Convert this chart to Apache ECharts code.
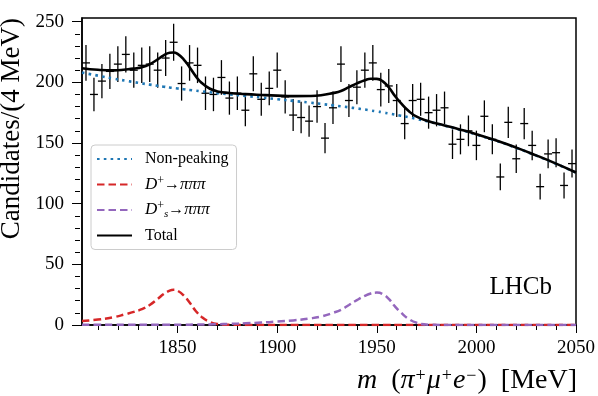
<!DOCTYPE html>
<html>
<head>
<meta charset="utf-8">
<script src="https://cdn.jsdelivr.net/npm/echarts@6/dist/echarts.min.js"></script>
<style>
  html, body { margin: 0; padding: 0; background: #fff; }
  #main { width: 598px; height: 396px; }
</style>
</head>
<body>
<div id="main"></div>
<script>
// bin centres (4 MeV bins) and counts
var binCenters = [1804, 1808, 1812, 1816, 1820, 1824, 1828, 1832, 1836, 1840,
    1844, 1848, 1852, 1856, 1860, 1864, 1868, 1872, 1876, 1880,
    1884, 1888, 1892, 1896, 1900, 1904, 1908, 1912, 1916, 1920,
    1924, 1928, 1932, 1936, 1940, 1944, 1948, 1952, 1956, 1960,
    1964, 1968, 1972, 1976, 1980, 1984, 1988, 1992, 1996, 2000,
    2004, 2008, 2012, 2016, 2020, 2024, 2028, 2032, 2036, 2040,
    2044, 2048];
var counts = [216, 190, 201, 209, 215, 223, 210, 214, 215, 210,
    220, 233, 199, 216, 214, 191, 190, 204, 187, 191,
    177, 207, 186, 195, 210, 188, 173, 171, 168, 180,
    154, 179, 215, 185, 196, 210, 216, 194, 197, 185,
    166, 185, 186, 175, 177, 179, 149, 153, 160, 148,
    172, 153, 122, 167, 137, 166, 148, 114, 141, 142,
    115, 133];

// fit curves, sampled where read
var curveX = [1802, 1810, 1818, 1824, 1828, 1832, 1836, 1840, 1843, 1846,
    1848, 1850, 1853, 1856, 1859, 1862, 1866, 1870, 1876, 1884,
    1892, 1900, 1908, 1916, 1922, 1928, 1932, 1936, 1940, 1944,
    1947, 1950, 1953, 1956, 1959, 1962, 1966, 1970, 1976, 1984,
    1992, 2000, 2010, 2020, 2030, 2040, 2050];
var nonPeaking = [208.0, 205.5, 203.0, 201.3, 200.2, 199.1, 198.1, 197.1, 196.4, 195.7,
    195.3, 194.9, 194.3, 193.7, 193.1, 192.5, 191.8, 191.1, 190.1, 188.8,
    187.5, 186.1, 184.7, 183.3, 182.2, 181.0, 180.2, 179.4, 178.5, 177.6,
    176.8, 176.0, 175.2, 174.3, 173.4, 172.5, 171.2, 169.8, 167.6, 164.3,
    160.8, 157.0, 151.8, 146.0, 139.6, 132.8, 125.5];
var dplus = [3.3, 4.5, 6.5, 9.0, 10.8, 13.0, 16.5, 21.5, 25.5, 28.3,
    29.0, 28.2, 24.4, 18.5, 11.8, 6.7, 2.6, 0.8, 0.2, 0.1,
    0.1, 0.1, 0.1, 0.1, 0.1, 0.1, 0.1, 0.1, 0.1, 0.1,
    0.1, 0.1, 0.1, 0.1, 0.1, 0.1, 0.1, 0.1, 0.1, 0.1,
    0.1, 0.1, 0.1, 0.1, 0.1, 0.1, 0.1];
var dsplus = [0.3, 0.3, 0.3, 0.3, 0.3, 0.3, 0.3, 0.3, 0.3, 0.3,
    0.3, 0.3, 0.3, 0.3, 0.4, 0.4, 0.5, 0.6, 0.9, 1.4,
    2.0, 2.8, 3.8, 5.3, 7.0, 10.0, 12.5, 16.5, 20.5, 24.0,
    26.0, 26.7, 25.5, 21.5, 15.5, 10.5, 5.0, 1.8, 0.3, 0.1,
    0.1, 0.1, 0.1, 0.1, 0.1, 0.1, 0.1];
var total = [211.6, 210.3, 209.8, 210.6, 211.3, 212.4, 214.9, 218.9, 222.2, 224.3,
    224.6, 223.4, 219.0, 212.5, 205.3, 199.6, 194.9, 192.5, 191.2, 190.3,
    189.6, 189.0, 188.6, 188.7, 189.3, 191.1, 192.8, 196.0, 199.1, 201.7,
    202.9, 202.8, 200.8, 195.9, 189.0, 183.1, 176.3, 171.7, 168.0, 164.5,
    161.0, 157.2, 152.0, 146.2, 139.8, 133.0, 125.7];

// ticks
var xMajor = [1850, 1900, 1950, 2000, 2050];
var xMinor = [1810, 1820, 1830, 1840, 1860, 1870, 1880, 1890, 1910, 1920, 1930, 1940,
    1960, 1970, 1980, 1990, 2010, 2020, 2030, 2040];
var yMajor = [0, 50, 100, 150, 200, 250];
var yMinor = [10, 20, 30, 40, 60, 70, 80, 90, 110, 120, 130, 140, 160, 170, 180, 190,
    210, 220, 230, 240];

var serif = 'Liberation Serif';
var gridW = 496, gridH = 307;

function pairs(xs, ys) {
    var out = [];
    for (var i = 0; i < xs.length; i++) out.push([xs[i], ys[i]]);
    return out;
}

var legendLabels = {
    'Non-peaking': 'Non-peaking',
    'D+→πππ': '{i|D}{sup|+}→{i|πππ}',
    'Ds+→πππ': '{i|D}{sup|+}{sub|s}→{i|πππ}',
    'Total': 'Total'
};

var chart = echarts.init(document.getElementById('main'));

var option = {
    animation: false,
    backgroundColor: '#fff',
    grid: {
        left: 82, right: 20, top: 18, bottom: 71,
        show: true, borderColor: '#000', borderWidth: 1.5
    },
    xAxis: [{
        type: 'value', min: 1802, max: 2050, position: 'bottom',
        axisLine: { show: true, lineStyle: { color: '#000', width: 1.5 } },
        axisTick: { customValues: xMajor, length: 8, lineStyle: { color: '#000', width: 1 } },
        axisLabel: {
            customValues: xMajor, margin: 14, color: '#000', fontFamily: serif, fontSize: 19,
            formatter: function (v) { return String(v); }
        },
        splitLine: { show: false }
    }, {
        // minor ticks: top axis moved down onto the bottom edge
        type: 'value', min: 1802, max: 2050, position: 'top', offset: -gridH,
        axisLine: { show: false },
        axisTick: { inside: true, customValues: xMinor, length: 5, lineStyle: { color: '#000', width: 1 } },
        axisLabel: { show: false },
        splitLine: { show: false }
    }],
    yAxis: [{
        type: 'value', min: 0, max: 253, position: 'left',
        axisLine: { show: true, lineStyle: { color: '#000', width: 1.5 } },
        axisTick: { customValues: yMajor, length: 10, lineStyle: { color: '#000', width: 1 } },
        axisLabel: { customValues: yMajor, margin: 18, color: '#000', fontFamily: serif, fontSize: 19 },
        splitLine: { show: false }
    }, {
        // minor ticks: right axis moved onto the left edge
        type: 'value', min: 0, max: 253, position: 'right', offset: -gridW,
        axisLine: { show: false },
        axisTick: { inside: true, customValues: yMinor, length: 5, lineStyle: { color: '#000', width: 1 } },
        axisLabel: { show: false },
        splitLine: { show: false }
    }],
    legend: {
        orient: 'vertical',
        left: 91, top: 145,
        padding: [4, 8, 4, 5],
        itemWidth: 35, itemHeight: 12, itemGap: 5.5,
        backgroundColor: '#fff',
        borderColor: '#ccc', borderWidth: 1, borderRadius: 4,
        itemStyle: { opacity: 0 },
        data: ['Non-peaking', 'D+→πππ', 'Ds+→πππ', 'Total'],
        formatter: function (name) { return legendLabels[name]; },
        textStyle: {
            fontFamily: serif, fontSize: 16, color: '#000', lineHeight: 20,
            padding: [0, 0, 0, 8],
            rich: {
                i: { fontFamily: serif, fontStyle: 'italic', fontSize: 17, color: '#000' },
                sup: { fontFamily: serif, fontSize: 12, color: '#000', verticalAlign: 'top', lineHeight: 14 },
                sub: { fontFamily: serif, fontStyle: 'italic', fontSize: 11, color: '#000', verticalAlign: 'bottom', lineHeight: 12 }
            }
        }
    },
    series: [{
        name: 'data', type: 'custom',
        data: pairs(binCenters, counts),
        encode: { x: 0, y: 1 },
        renderItem: function (params, api) {
            var x = api.value(0), y = api.value(1), e = Math.sqrt(y);
            var c = api.coord([x, y]);
            var lo = api.coord([x - 2, y - e]);
            var hi = api.coord([x + 2, y + e]);
            return {
                type: 'group', children: [
                    { type: 'line', shape: { x1: c[0], y1: lo[1], x2: c[0], y2: hi[1] },
                      style: { stroke: '#000', lineWidth: 1.3 } },
                    { type: 'line', shape: { x1: lo[0], y1: c[1], x2: hi[0], y2: c[1] },
                      style: { stroke: '#000', lineWidth: 1.3 } }
                ]
            };
        },
        z: 2
    }, {
        name: 'Non-peaking', type: 'line', smooth: true, symbol: 'none',
        data: pairs(curveX, nonPeaking),
        lineStyle: { color: '#1f77b4', width: 2.6, type: [2.6, 4.2] },
        itemStyle: { color: '#1f77b4' },
        z: 3
    }, {
        name: 'D+→πππ', type: 'line', smooth: true, symbol: 'none',
        data: pairs(curveX, dplus),
        lineStyle: { color: '#d62728', width: 2.5, type: [7.5, 4] },
        itemStyle: { color: '#d62728' },
        z: 3
    }, {
        name: 'Ds+→πππ', type: 'line', smooth: true, symbol: 'none',
        data: pairs(curveX, dsplus),
        lineStyle: { color: '#9467bd', width: 2.5, type: [7.5, 4] },
        itemStyle: { color: '#9467bd' },
        z: 3
    }, {
        name: 'Total', type: 'line', smooth: true, symbol: 'none',
        data: pairs(curveX, total),
        lineStyle: { color: '#000', width: 2.6 },
        itemStyle: { color: '#000' },
        z: 4
    }],
    graphic: [{
        type: 'text', x: 12, y: 18, rotation: Math.PI / 2,
        style: {
            text: 'Candidates/(4 MeV)', align: 'right', verticalAlign: 'middle',
            fontFamily: serif, fontSize: 27, fill: '#000'
        }
    }, {
        type: 'text', x: 552, y: 287,
        style: {
            text: 'LHCb', align: 'right', verticalAlign: 'middle',
            fontFamily: serif, fontSize: 25, fill: '#000'
        }
    }, {
        type: 'text', x: 577, y: 381,
        style: {
            text: '{i|m}  ({i|π}{sup|+}{i|μ}{sup|+}{i|e}{sup|−})  [MeV]',
            align: 'right', verticalAlign: 'middle',
            fontFamily: serif, fontSize: 28, fill: '#000',
            rich: {
                i: { fontFamily: serif, fontStyle: 'italic', fontSize: 28, fill: '#000' },
                sup: { fontFamily: serif, fontSize: 18, fill: '#000', verticalAlign: 'top', lineHeight: 18, padding: [0, 1, 0, 1] }
            }
        }
    }]
};

chart.setOption(option);
</script>
</body>
</html>
